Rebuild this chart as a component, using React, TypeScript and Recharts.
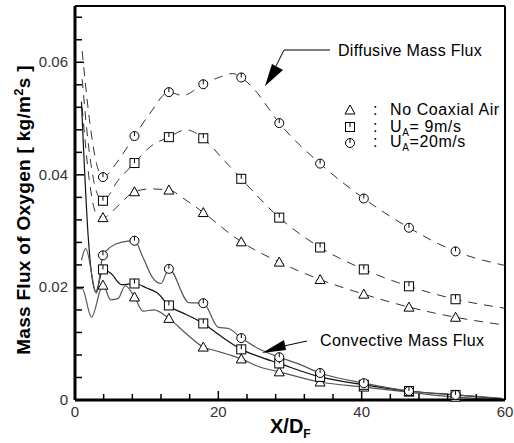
import React from "react";
import { LineChart, Line, XAxis, YAxis, ReferenceLine } from "recharts";

// X/D_F positions where the symbols are drawn
const markerX = [3.9, 8.3, 13.1, 17.9, 23.2, 28.5, 34.2, 40.3, 46.6, 53.1];

// diffusive mass flux (dashed)
const diffCircle: [number, number][] = [
  [1.0, 0.062], [2.0, 0.05], [3.0, 0.042], [3.9, 0.0396], [6, 0.0425], [8.3, 0.0469],
  [10.5, 0.051], [13.1, 0.0547], [15, 0.0541], [17.9, 0.0561], [20.5, 0.0575], [22, 0.058],
  [23.2, 0.0573], [25, 0.0552], [28.5, 0.0492], [34.2, 0.042], [40.3, 0.0358],
  [46.6, 0.0306], [53.1, 0.0264], [60, 0.0239],
];
const diffSquare: [number, number][] = [
  [1.0, 0.057], [2.0, 0.044], [3.0, 0.037], [3.9, 0.0354], [6, 0.039], [8.3, 0.0421],
  [10.5, 0.045], [13.1, 0.0467], [15.5, 0.048], [17.9, 0.0465], [20.5, 0.043],
  [23.2, 0.0393], [28.5, 0.0324], [34.2, 0.0271], [40.3, 0.0232], [46.6, 0.0202],
  [53.1, 0.0179], [60, 0.0163],
];
const diffTri: [number, number][] = [
  [1.0, 0.052], [2.0, 0.039], [3.0, 0.033], [3.9, 0.0324], [6, 0.0345], [8.3, 0.037],
  [10.5, 0.0375], [13.1, 0.0373], [15.5, 0.0355], [17.9, 0.0333], [23.2, 0.0281],
  [28.5, 0.0245], [34.2, 0.0214], [40.3, 0.0188], [46.6, 0.0165], [53.1, 0.0147],
  [60, 0.0133],
];

// convective mass flux (solid)
const convCircle: [number, number][] = [
  [0.9, 0.0248], [1.5, 0.0269], [3.0, 0.019], [3.9, 0.0257], [5.0, 0.0272], [6.4, 0.028],
  [8.3, 0.0283], [9.5, 0.0253], [10.8, 0.0218], [12, 0.0207], [13.1, 0.0233],
  [15.9, 0.0173], [17.9, 0.0172], [20, 0.0129], [21.4, 0.0127], [23.2, 0.011],
  [25.5, 0.0092], [28.5, 0.0076], [31, 0.0065], [34.2, 0.0048], [40.3, 0.003],
  [46.6, 0.0016], [53.1, 0.0009], [59.6, 0.0003],
];
const convSquare: [number, number][] = [
  [0.9, 0.053], [1.9, 0.028], [2.9, 0.0192], [3.9, 0.0232], [5.0, 0.0225], [6.5, 0.0205],
  [8.3, 0.0207], [10, 0.0199], [11.5, 0.019], [13.1, 0.0168], [15.5, 0.0152],
  [17.9, 0.0136], [20.5, 0.0112], [23.2, 0.009], [25.5, 0.0078], [28.5, 0.0065],
  [34.2, 0.0041], [40.3, 0.0027], [46.6, 0.0016], [53.1, 0.0009], [59.6, 0.0002],
];
const convTri: [number, number][] = [
  [0, 0.0198], [1.0, 0.0198], [2.3, 0.0147], [3.9, 0.0204], [5, 0.0178], [6, 0.018],
  [7, 0.0203], [8.3, 0.0183], [9.5, 0.0158], [11, 0.016], [13.1, 0.0145], [15.5, 0.0118],
  [17.9, 0.0094], [19.5, 0.0088], [23.2, 0.0073], [25.5, 0.006], [28.5, 0.005],
  [34.2, 0.0032], [40.3, 0.0023], [46.6, 0.0014], [53.1, 0.0005], [59.6, 0.0001],
];

const xTicks = [0, 4, 8, 12, 16, 20, 24, 28, 32, 36, 40, 44, 48, 52, 56, 60];
const xMajor = [0, 20, 40, 60];
const yTicks = [
  0, 0.004, 0.008, 0.012, 0.016, 0.02, 0.024, 0.028, 0.032, 0.036, 0.04, 0.044, 0.048,
  0.052, 0.056, 0.06, 0.064, 0.068,
];
const yMajor = [0, 0.02, 0.04, 0.06];
const yMajorLabels = ["0", "0.02", "0.04", "0.06"];

const FONT = "'Liberation Sans', Arial, sans-serif";

const toPts = (arr: [number, number][]) => arr.map(([x, y]) => ({ x, y }));

const drawSymbol = (kind: string, cx: number, cy: number, key: string) => {
  if (kind === "tri") {
    return (
      <polygon
        key={key}
        points={`${cx},${cy - 5} ${cx - 5},${cy + 4} ${cx + 5},${cy + 4}`}
        fill="#fff"
        stroke="#000"
        strokeWidth={1}
      />
    );
  }
  if (kind === "sq") {
    return (
      <g key={key}>
        <rect x={cx - 4.5} y={cy - 4.5} width={9} height={9} fill="#fff" stroke="#000" strokeWidth={1} />
        <line x1={cx} x2={cx} y1={cy - 4.5} y2={cy} stroke="#000" strokeWidth={1} />
      </g>
    );
  }
  return (
    <g key={key}>
      <circle cx={cx} cy={cy} r={4.5} fill="#fff" stroke="#000" strokeWidth={1} />
      <line x1={cx} x2={cx} y1={cy - 4.5} y2={cy} stroke="#000" strokeWidth={1} />
    </g>
  );
};

const markerDot = (kind: string, name: string) =>
  // eslint-disable-next-line @typescript-eslint/no-explicit-any
  (props: any) => {
    const { cx, cy, payload, index } = props;
    const key = `${name}-${index}`;
    if (!markerX.includes(payload.x)) return <g key={key} />;
    return drawSymbol(kind, cx, cy, key);
  };

// eslint-disable-next-line @typescript-eslint/no-explicit-any
const YTick = (props: any) => {
  const { x, y, payload } = props;
  const i = yMajor.indexOf(payload.value);
  const major = i >= 0;
  return (
    <g>
      <line x1={x} x2={x + (major ? 9 : 7)} y1={y} y2={y} stroke="#000" strokeWidth={1.5} />
      {major && (
        <text x={x - 7} y={y + 5} textAnchor="end" fontSize={15} fontFamily={FONT} fill="#333">
          {yMajorLabels[i]}
        </text>
      )}
    </g>
  );
};

// eslint-disable-next-line @typescript-eslint/no-explicit-any
const XTick = (props: any) => {
  const { x, y, payload } = props;
  const major = xMajor.includes(payload.value);
  return (
    <g>
      <line x1={x} x2={x} y1={y} y2={y - (major ? 9 : 6)} stroke="#000" strokeWidth={1.5} />
      {major && (
        <text x={x} y={y + 17} textAnchor="middle" fontSize={15} fontFamily={FONT} fill="#333">
          {payload.value}
        </text>
      )}
    </g>
  );
};

const dashed = { stroke: "#333", strokeWidth: 1, strokeDasharray: "9 7" };

export default function App() {
  return (
    <div style={{ position: "absolute", left: 0, top: 0, width: 514, height: 443, background: "#fff" }}>
      <LineChart width={514} height={443} margin={{ top: 6, right: 9, left: 0, bottom: 0 }}>
        <XAxis
          dataKey="x"
          type="number"
          domain={[0, 60]}
          ticks={xTicks}
          interval={0}
          tick={XTick}
          tickLine={false}
          tickSize={0}
          tickMargin={0}
          height={43}
          axisLine={{ stroke: "#000", strokeWidth: 3 }}
          allowDuplicatedCategory={false}
        />
        <YAxis
          type="number"
          domain={[0, 0.07]}
          ticks={yTicks}
          interval={0}
          tick={YTick}
          tickLine={false}
          tickSize={0}
          tickMargin={0}
          width={75}
          axisLine={{ stroke: "#000", strokeWidth: 3 }}
        />
        <ReferenceLine y={0.07} stroke="#000" strokeWidth={2} />
        <ReferenceLine x={60} stroke="#000" strokeWidth={2} />

        <Line data={toPts(diffCircle)} dataKey="y" type="monotone" {...dashed} dot={markerDot("circ", "dc")} isAnimationActive={false} />
        <Line data={toPts(diffSquare)} dataKey="y" type="monotone" {...dashed} dot={markerDot("sq", "ds")} isAnimationActive={false} />
        <Line data={toPts(diffTri)} dataKey="y" type="monotone" {...dashed} dot={markerDot("tri", "dt")} isAnimationActive={false} />

        <Line data={toPts(convTri)} dataKey="y" type="monotone" stroke="#555" strokeWidth={1.2} dot={markerDot("tri", "ct")} isAnimationActive={false} />
        <Line data={toPts(convSquare)} dataKey="y" type="monotone" stroke="#111" strokeWidth={1.2} dot={markerDot("sq", "cs")} isAnimationActive={false} />
        <Line data={toPts(convCircle)} dataKey="y" type="monotone" stroke="#555" strokeWidth={1.2} dot={markerDot("circ", "cc")} isAnimationActive={false} />
      </LineChart>

      <svg
        width={514}
        height={443}
        style={{ position: "absolute", left: 0, top: 0, pointerEvents: "none" }}
        fontFamily={FONT}
      >
        {/* axis titles */}
        <text transform="translate(30,210) rotate(-90)" textAnchor="middle" fontSize={19} fontWeight="bold" letterSpacing={0.3} fill="#000">
          Mass Flux of Oxygen [ kg/m<tspan dy={-7} fontSize={13}>2</tspan>
          <tspan dy={7}>s ]</tspan>
        </text>
        <text x={270} y={433} fontSize={20} fontWeight="bold" fill="#000">
          X/D<tspan dy={5} fontSize={12}>F</tspan>
        </text>

        {/* legend */}
        {drawSymbol("tri", 350, 110, "lt")}
        {drawSymbol("sq", 350, 127, "ls")}
        {drawSymbol("circ", 350, 143, "lc")}
        <g fontSize={16} fill="#000" letterSpacing={0.6}>
          <text x={373} y={115}>:</text>
          <text x={373} y={131.5}>:</text>
          <text x={373} y={147}>:</text>
          <text x={390} y={115}>No Coaxial Air</text>
          <text x={390} y={131.5}>
            U<tspan dy={4} fontSize={10}>A</tspan>
            <tspan dy={-4}>= 9m/s</tspan>
          </text>
          <text x={390} y={147}>
            U<tspan dy={4} fontSize={10}>A</tspan>
            <tspan dy={-4}>=20m/s</tspan>
          </text>
        </g>

        {/* annotations */}
        <text x={338} y={56} fontSize={16} letterSpacing={0.3} fill="#000">Diffusive Mass Flux</text>
        <polyline points="330,50 284,50 276,66" fill="none" stroke="#000" strokeWidth={1} />
        <polygon points="265,86 272,64 283,70" fill="#000" />

        <text x={320} y={346} fontSize={16} letterSpacing={0.4} fill="#000">Convective Mass Flux</text>
        <line x1={307} y1={341} x2={284} y2={346} stroke="#000" strokeWidth={1} />
        <polygon points="262,353 284,340 286,350" fill="#000" />
      </svg>
    </div>
  );
}
